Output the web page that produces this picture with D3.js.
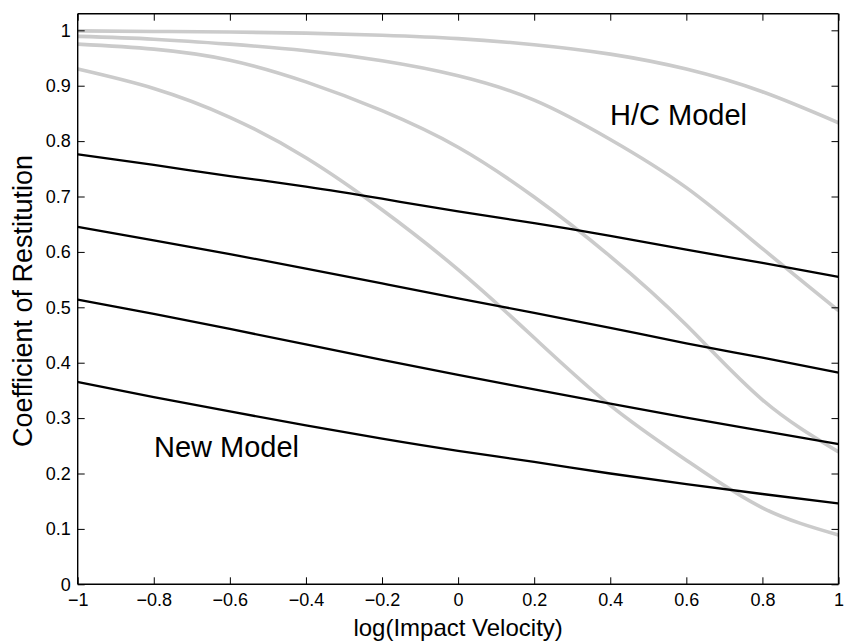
<!DOCTYPE html>
<html>
<head>
<meta charset="utf-8">
<script src="https://cdn.jsdelivr.net/npm/d3@7"></script>
<style>
  body{margin:0;background:#fff}
  text{font-family:Arial,"Liberation Sans",Helvetica,sans-serif;fill:#000}
</style>
</head>
<body>
<svg id="chart" width="846" height="641"></svg>
<script>
// log(impact velocity) sample points
const xs = [-1,-0.8,-0.6,-0.4,-0.2,0,0.2,0.4,0.6,0.8,1]

// H/C model (grey curves)
const hcA = [0.999,0.998,0.997,0.995,0.991,0.985,0.974,0.957,0.930,0.889,0.833]
const hcB = [0.989,0.984,0.975,0.963,0.945,0.918,0.874,0.803,0.716,0.606,0.494]
const hcC = [0.975,0.966,0.946,0.907,0.855,0.789,0.699,0.592,0.468,0.333,0.239]
const hcD = [0.930,0.895,0.843,0.770,0.676,0.568,0.445,0.323,0.224,0.138,0.089]

// new model (black lines)
const nm1 = [0.776,0.757,0.737,0.718,0.696,0.673,0.652,0.629,0.604,0.580,0.555]
const nm2 = [0.645,0.621,0.596,0.570,0.543,0.516,0.490,0.463,0.435,0.409,0.382]
const nm3 = [0.514,0.488,0.461,0.433,0.405,0.378,0.352,0.326,0.301,0.277,0.253]
const nm4 = [0.365,0.338,0.312,0.287,0.263,0.241,0.221,0.200,0.181,0.163,0.146]

const xTicks = [-1,-0.8,-0.6,-0.4,-0.2,0,0.2,0.4,0.6,0.8,1]
const yTicks = [0,0.1,0.2,0.3,0.4,0.5,0.6,0.7,0.8,0.9,1]

const W=846, H=641
const m={top:13.7,right:7.5,bottom:56.7,left:77.7}
const svg=d3.select("#chart")

const x=d3.scaleLinear().domain([-1,1]).range([m.left,W-m.right])
const y=d3.scaleLinear().domain([0,1.03]).range([H-m.bottom,m.top])

const fmt = d => d===0 ? "0" : String(d).replace("-","\u2212")

const line=d3.line().x((d,i)=>x(xs[i])).y(d=>y(d)).curve(d3.curveNatural)

const plot=svg.append("g")
plot.append("defs").append("clipPath").attr("id","clip")
  .append("rect").attr("x",m.left).attr("y",m.top)
  .attr("width",W-m.left-m.right).attr("height",H-m.top-m.bottom)

let lines=plot.append("g").attr("clip-path","url(#clip)")
;[hcA,hcB,hcC,hcD].forEach(s=>{
  lines.append("path").attr("d",line(s))
    .attr("fill","none").attr("stroke","#cbcbcb").attr("stroke-width",3.6)
})
;[nm1,nm2,nm3,nm4].forEach(s=>{
  lines.append("path").attr("d",line(s))
    .attr("fill","none").attr("stroke","#000").attr("stroke-width",2.3)
})

// axes (ticks point inward, mirrored on top/right)
const tl=7
const axB=svg.append("g").attr("transform",`translate(0,${H-m.bottom})`)
  .call(d3.axisBottom(x).tickValues(xTicks).tickSize(-tl).tickPadding(9).tickFormat(fmt))
const axT=svg.append("g").attr("transform",`translate(0,${m.top})`)
  .call(d3.axisTop(x).tickValues(xTicks).tickSize(-tl).tickFormat(""))
const axL=svg.append("g").attr("transform",`translate(${m.left},0)`)
  .call(d3.axisLeft(y).tickValues(yTicks).tickSize(-tl).tickPadding(7).tickFormat(fmt))
const axR=svg.append("g").attr("transform",`translate(${W-m.right},0)`)
  .call(d3.axisRight(y).tickValues(yTicks).tickSize(-tl).tickFormat(""))

;[axB,axT,axL,axR].forEach(a=>{
  a.select(".domain").attr("stroke","#000").attr("stroke-width",1.4)
  a.selectAll(".tick line").attr("stroke","#000").attr("stroke-width",1)
  a.selectAll(".tick text").style("font-size","18px").attr("fill","#000")
})
axB.selectAll(".domain").attr("d",`M${m.left},0H${W-m.right}`)
axT.selectAll(".domain").attr("d",`M${m.left},0H${W-m.right}`)
axL.selectAll(".domain").attr("d",`M0,${H-m.bottom}V${m.top}`)
axR.selectAll(".domain").attr("d",`M0,${H-m.bottom}V${m.top}`)

// labels
svg.append("text").attr("x",(m.left+W-m.right)/2).attr("y",635.5)
  .attr("text-anchor","middle").style("font-size","24px").text("log(Impact Velocity)")
svg.append("text").attr("transform",`translate(32,${(m.top+H-m.bottom)/2+2}) rotate(-90)`)
  .attr("text-anchor","middle").style("font-size","27px").text("Coefficient of Restitution")

svg.append("text").attr("x",610).attr("y",125).style("font-size","29px").text("H/C Model")
svg.append("text").attr("x",154).attr("y",457).style("font-size","29px").text("New Model")
</script>
</body>
</html>
